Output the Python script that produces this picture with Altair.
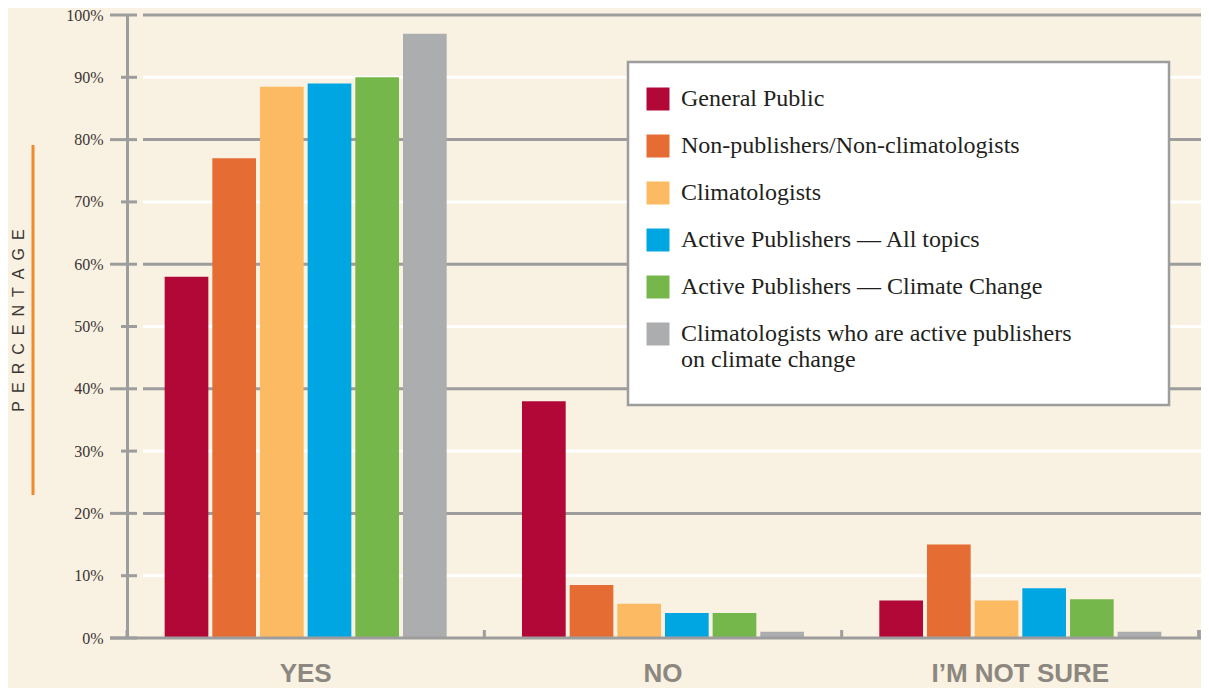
import altair as alt
import pandas as pd

categories = ["YES", "NO", "I\u2019M NOT SURE"]
groups = [
    "General Public",
    "Non-publishers/Non-climatologists",
    "Climatologists",
    "Active Publishers \u2014 All topics",
    "Active Publishers \u2014 Climate Change",
    "Climatologists who are active publishers on climate change",
]
colors = ["#b20838", "#e56d34", "#fcba63", "#00a6e2", "#76b74b", "#acadaf"]
yes_values = [58, 77, 88.5, 89, 90, 97]
no_values = [38, 8.5, 5.5, 4, 4, 1]
not_sure_values = [6, 15, 6, 8, 6.2, 1]
y_ticks = [0, 10, 20, 30, 40, 50, 60, 70, 80, 90, 100]

rows = []
for cat, vals in zip(categories, [yes_values, no_values, not_sure_values]):
    for g, v in zip(groups, vals):
        rows.append({"answer": cat, "group": g, "pct": v})
df = pd.DataFrame(rows)
ticks_df = pd.DataFrame({"v": y_ticks})
cats_df = pd.DataFrame({"answer": categories})

W, H = 1072, 623
GRID = "#9d9d9d"

y_scale = alt.Scale(domain=[0, 100], nice=False, zero=True)
x_scale = alt.Scale(paddingInner=0, paddingOuter=0)

x_axis = alt.Axis(
    title=None, domain=False, ticks=False, tickSize=0, grid=False,
    labelAngle=0, labelFont="Liberation Sans Narrow, Liberation Sans",
    labelFontWeight="bold", labelFontSize=26, labelColor="#8c877f",
    labelPadding=22, labelLimit=500,
)
y_axis = alt.Axis(
    values=y_ticks, labelExpr="datum.value + '%'", grid=False, ticks=False,
    tickSize=0, domain=True, domainColor=GRID, domainWidth=3,
    labelPadding=24, labelFont="Liberation Serif", labelFontSize=16,
    labelColor="#3b3535",
    title="P\u2002E\u2002R\u2002C\u2002E\u2002N\u2002T\u2002A\u2002G\u2002E",
    titleFont="Liberation Sans", titleFontSize=16, titleFontWeight="normal",
    titleColor="#3a3633", titleX=-109, titleY=305, titleAngle=270,
    titleAlign="center", titleBaseline="middle",
)

x_enc = alt.X("answer:N", sort=categories, scale=x_scale, axis=x_axis)

grid_minor = alt.Chart(ticks_df).transform_filter("datum.v % 20 != 0").mark_rule(
    color="#ffffff", strokeWidth=3
).encode(y=alt.Y("v:Q", scale=y_scale, axis=y_axis), x=alt.value(16), x2=alt.value(W + 2))

grid_major = alt.Chart(ticks_df).transform_filter("datum.v % 20 == 0 && datum.v > 0").mark_rule(
    color=GRID, strokeWidth=3
).encode(y=alt.Y("v:Q", scale=y_scale, axis=y_axis), x=alt.value(16), x2=alt.value(W + 2))

baseline = alt.Chart(ticks_df).transform_filter("datum.v == 0").mark_rule(
    color=GRID, strokeWidth=3
).encode(y=alt.Y("v:Q", scale=y_scale, axis=y_axis), x=alt.value(-17), x2=alt.value(W + 2))

major_ticks = alt.Chart(ticks_df).transform_filter("datum.v % 20 == 0").mark_rule(
    color=GRID, strokeWidth=3
).encode(y=alt.Y("v:Q", scale=y_scale, axis=y_axis), x=alt.value(-17), x2=alt.value(10))

minor_ticks = alt.Chart(ticks_df).transform_filter("datum.v % 20 != 0").mark_rule(
    color=GRID, strokeWidth=3
).encode(y=alt.Y("v:Q", scale=y_scale, axis=y_axis), x=alt.value(-6), x2=alt.value(10))

label_expr = (
    "datum.label == 'Climatologists who are active publishers on climate change' ? "
    "['Climatologists who are active publishers', 'on climate change'] : datum.label"
)

bars = alt.Chart(df).mark_bar().encode(
    x=x_enc,
    xOffset=alt.XOffset("group:N", sort=groups,
                        scale=alt.Scale(paddingInner=0.0833, paddingOuter=0.79)),
    y=alt.Y("pct:Q", scale=y_scale, axis=y_axis),
    color=alt.Color(
        "group:N", sort=groups,
        scale=alt.Scale(domain=groups, range=colors),
        legend=alt.Legend(
            title=None, orient="none", legendX=519, legendY=72,
            direction="vertical", symbolType="square", symbolSize=529,
            symbolStrokeWidth=0, symbolOpacity=1,
            labelFont="Liberation Serif", labelFontSize=24,
            labelColor="#231f20", labelLimit=700, labelOffset=11,
            rowPadding=23, padding=0, labelExpr=label_expr,
        ),
    ),
)

band_ticks = alt.Chart(cats_df).mark_rule(color=GRID, strokeWidth=3).encode(
    x=alt.X("answer:N", sort=categories, scale=x_scale, axis=x_axis, bandPosition=0),
    y=alt.value(H), y2=alt.value(H - 8),
)
end_tick = alt.Chart(cats_df).mark_rule(color=GRID, strokeWidth=3).encode(
    x=alt.value(W), y=alt.value(H), y2=alt.value(H - 8),
)

legend_box = alt.Chart(alt.Data(values=[{}])).mark_rect(
    fill="#ffffff", stroke=GRID, strokeWidth=2.5
).encode(x=alt.value(501), x2=alt.value(1042), y=alt.value(47), y2=alt.value(390))

orange_line = alt.Chart(alt.Data(values=[{}])).mark_rule(
    color="#f08a2c", strokeWidth=3
).encode(x=alt.value(-94), y=alt.value(130), y2=alt.value(480))

chart = alt.layer(
    grid_minor, grid_major, bars, legend_box, baseline, major_ticks, minor_ticks,
    band_ticks, end_tick, orange_line,
).properties(
    width=W, height=H,
    padding={"left": 119, "top": 7, "right": 2, "bottom": 50},
    autosize=alt.AutoSizeParams(type="none"),
    background="#f9f1e1",
).configure_view(strokeWidth=0)

chart.save("out.html", embed_options={"renderer": "svg", "actions": False})
